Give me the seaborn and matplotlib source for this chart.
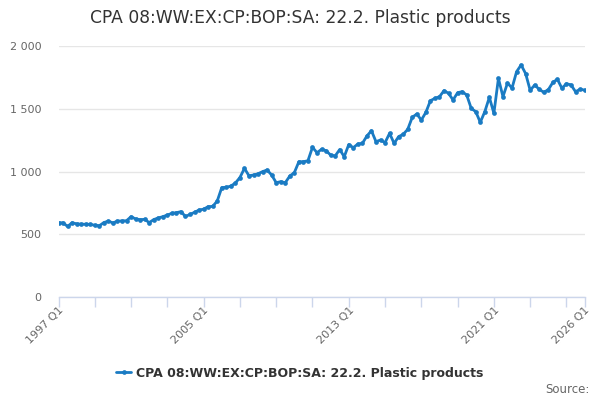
import numpy as np
import pandas as pd
import matplotlib
matplotlib.use("Agg")
import matplotlib.pyplot as plt
import seaborn as sns
from matplotlib.ticker import FuncFormatter, FixedLocator
from matplotlib.lines import Line2D

TITLE = "CPA 08:WW:EX:CP:BOP:SA: 22.2. Plastic products"
SERIES_NAME = "CPA 08:WW:EX:CP:BOP:SA: 22.2. Plastic products"

# quarterly categories 1997 Q1 .. 2026 Q1
years = list(range(1997, 2027))
quarters = [f"{y} Q{q}" for y in years for q in (1, 2, 3, 4)][:117]

values = [
    590, 592, 562, 592, 583, 580, 580, 578, 572, 568,
    593, 605, 590, 605, 606, 608, 640, 622, 616, 619,
    593, 617, 630, 640, 653, 667, 672, 680, 642, 658,
    675, 693, 700, 720, 722, 765, 872, 874, 884, 908,
    952, 1025, 966, 972, 982, 999, 1012, 972, 911, 919,
    911, 964, 991, 1078, 1078, 1086, 1193, 1150, 1177, 1166,
    1131, 1124, 1175, 1118, 1215, 1190, 1219, 1224, 1283, 1325,
    1238, 1251, 1230, 1304, 1224, 1278, 1296, 1336, 1432, 1458,
    1410, 1471, 1564, 1583, 1596, 1644, 1623, 1570, 1628, 1636,
    1610, 1503, 1477, 1392, 1477, 1591, 1464, 1742, 1596, 1705,
    1665, 1795, 1849, 1780, 1647, 1689, 1655, 1631, 1652, 1710,
    1735, 1663, 1700, 1690, 1636, 1655, 1649,
]

major_idx = [0, 32, 64, 96, 116]
minor_idx = list(range(8, 116, 8))
y_ticks = [0, 500, 1000, 1500, 2000]

df = pd.DataFrame({"pos": np.arange(len(values)), "value": values,
                   "quarter": quarters[:len(values)]})

LINE_C = "#1a7bc3"
GRID_C = "#e6e6e6"
AXIS_C = "#ccd6eb"
TEXT_C = "#666666"

sns.set_theme(style="white")
plt.rcParams["font.family"] = ["DejaVu Sans"]

fig = plt.figure(figsize=(6, 4), dpi=100)
ax = fig.add_axes([58.5 / 600, 103 / 400, (584.6 - 58.5) / 600, (297 - 46) / 400])

sns.lineplot(data=df, x="pos", y="value", ax=ax, color=LINE_C, linewidth=2,
             marker="o", markersize=3.4, markeredgewidth=0, legend=False)

ax.set_xlim(0, len(quarters) - 1)
ax.set_ylim(0, 2000)
ax.set_xlabel("")
ax.set_ylabel("")

for s in ["top", "right", "left"]:
    ax.spines[s].set_visible(False)
ax.spines["bottom"].set_color(AXIS_C)
ax.spines["bottom"].set_linewidth(1)

ax.yaxis.set_major_locator(FixedLocator(y_ticks))
ax.yaxis.set_major_formatter(FuncFormatter(lambda v, p: f"{v:,.0f}".replace(",", " ")))
ax.grid(axis="y", color=GRID_C, linewidth=1)
ax.set_axisbelow(True)
ax.tick_params(axis="y", length=0, pad=12.5, labelsize=8, labelcolor=TEXT_C)

ax.set_xticks(major_idx)
ax.set_xticklabels([quarters[i] for i in major_idx], rotation=45, ha="right",
                   rotation_mode="anchor", va="top")
ax.set_xticks(minor_idx, minor=True)
ax.tick_params(axis="x", which="both", length=7, width=1, color=AXIS_C,
               direction="out", bottom=True)
ax.tick_params(axis="x", which="major", pad=-1.5, labelsize=8, labelcolor=TEXT_C)

fig.text(0.5, 0.955, TITLE, ha="center", va="center", fontsize=12.3, color="#333333")

handle = Line2D([], [], color=LINE_C, linewidth=2, marker="o", markersize=3.4,
                markeredgewidth=0)
leg = fig.legend([handle], [SERIES_NAME], loc="center", bbox_to_anchor=(0.5, 0.0675),
                 frameon=False, handlelength=1.2, handletextpad=0.4,
                 prop={"weight": "bold", "size": 9.0})
for t in leg.get_texts():
    t.set_color("#333333")

fig.text(0.983, 0.026, "Source:", ha="right", va="center", fontsize=8.5, color=TEXT_C)

fig.savefig("out.png", dpi=100)
